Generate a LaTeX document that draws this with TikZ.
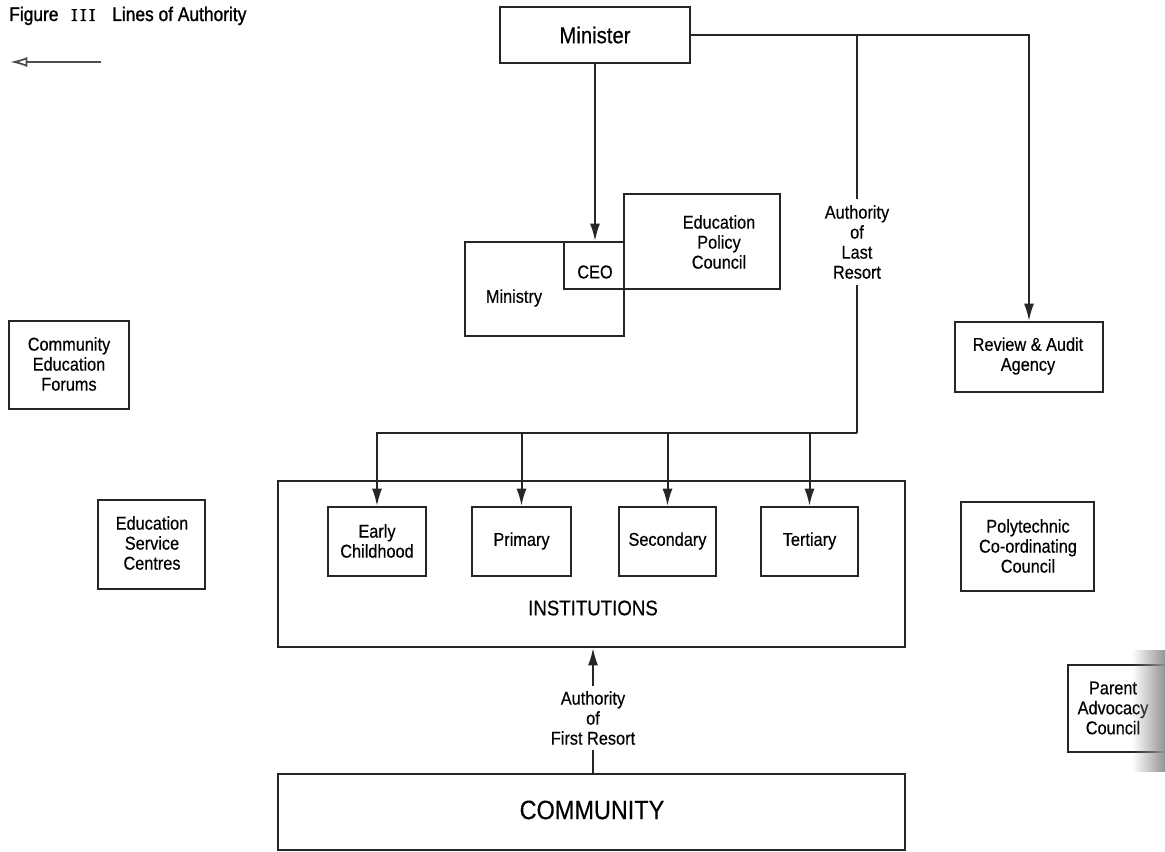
\documentclass[tikz,border=0pt]{standalone}
\usepackage{fontspec}
\setmainfont{Liberation Sans}[FakeStretch=0.88, FakeBold=0.35]
\newfontfamily\heavysans{Liberation Sans}[FakeStretch=0.88, FakeBold=1.2]
\newfontfamily\lmr{lmroman10-regular.otf}[FakeBold=1.2]
\usetikzlibrary{arrows.meta,fit,fadings}

% soft darkening toward the right margin
\tikzfading[name=scanfade, left color=transparent!100, right color=transparent!0]

\begin{document}
\begin{tikzpicture}[x=0.75pt,y=-0.75pt,
  boxfit/.style={draw=black!85, line width=1.5pt, inner sep=0pt},
  txt/.style={font=\fontsize{13.9}{15}\selectfont, align=center, inner sep=0pt},
  link/.style={draw=black!85, line width=1.5pt},
  arr/.style={link, -{Latex[length=13pt,width=7.5pt]}},
]
\path[use as bounding box] (0,0) rectangle (1165,852);
\clip (0,0) rectangle (1165,852);
\fill[white] (0,0) rectangle (1165,852);

% title
\node[anchor=base west, inner sep=0pt, font=\heavysans\fontsize{14.8}{16}\selectfont] (figword) at (9,21) {Figure};
\node[anchor=base west, inner sep=0pt, font=\lmr\fontsize{13}{15}\selectfont] (roman) at (71,21) {I\kern2pt I\kern2pt I};
\node[anchor=base west, inner sep=0pt, font=\heavysans\fontsize{14.8}{16}\selectfont] (figtitle) at (112,21) {Lines of Authority};
\coordinate (sa1) at (101,62);
\coordinate (sa2) at (10,62);
\draw[black!70, line width=1.3pt, -{Latex[open,length=13pt,width=7.5pt]}] (sa1) -- (sa2);

% top level
\node[boxfit, fit={(500,7) (690,63)}] (minister) {};
\node[txt, font=\fontsize{17.3}{19}\selectfont] (ministerT) at (minister.center) {Minister};

% ministry cluster
\node[boxfit, fit={(465,242) (624,336)}] (ministry) {};
\node[txt] (ministryT) at (514,298) {Ministry};
\node[boxfit, fit={(564,242) (624,289)}] (ceo) {};
\node[txt] (ceoT) at (595,272) {CEO};
\node[boxfit, fit={(624,194) (780,289)}] (epc) {};
\node[txt] (epcT) at (719,242) {Education\\Policy\\Council};

% side bodies
\node[boxfit, fit={(955,322) (1103,392)}] (review) {};
\node[txt] (reviewT) at (1028,356) {Review \& Audit\\Agency};
\node[boxfit, fit={(9,321) (129,409)}] (cef) {};
\node[txt] (cefT) at (69,364) {Community\\Education\\Forums};
\node[boxfit, fit={(98,500) (205,589)}] (esc) {};
\node[txt] (escT) at (152,543) {Education\\Service\\Centres};
\node[boxfit, fit={(961,502) (1094,591)}] (poly) {};
\node[txt] (polyT) at (1028,546) {Polytechnic\\Co-ordinating\\Council};
\node[boxfit, fit={(1068,665) (1180,752)}] (pac) {};
\node[txt] (pacT) at (1113,708) {Parent\\Advocacy\\Council};

% institutions
\node[boxfit, fit={(278,481) (905,647)}] (inst) {};
\node[txt, font=\fontsize{15.9}{17}\selectfont] (instT) at (593,608) {INSTITUTIONS};
\node[boxfit, fit={(328,507) (426,576)}] (early) {};
\node[txt] (earlyT) at (377,541) {Early\\Childhood};
\node[boxfit, fit={(472,507) (571,576)}] (primary) {};
\node[txt] (primaryT) at (521.5,541) {Primary};
\node[boxfit, fit={(619,507) (716,576)}] (secondary) {};
\node[txt] (secondaryT) at (667.5,541) {Secondary};
\node[boxfit, fit={(761,507) (858,576)}] (tertiary) {};
\node[txt] (tertiaryT) at (809.5,541) {Tertiary};

% community
\node[boxfit, fit={(278,774) (905,850)}] (community) {};
\node[txt, font=\fontsize{20}{22}\selectfont] (communityT) at (592,810) {COMMUNITY};

% connector labels
\node[txt, inner sep=4.5pt] (lastres) at (857,242) {Authority\\of\\Last\\Resort};
\node[txt, inner sep=3.5pt] (firstres) at (593,718) {Authority\\of\\First Resort};

% lines of authority
\draw[arr] (minister.south) -- (minister.south |- ceo.north);
\draw[arr] (minister.east) -| (review.north);
\coordinate (lrTop) at (lastres.north |- minister.east);
\coordinate (bus) at (857,433);
\draw[link] (lrTop) -- (lastres.north);
\draw[link] (lastres.south) -- (bus);
\draw[arr] (bus) -- (early.north |- bus) -- (early.north);
\draw[arr] (primary.north |- bus) -- (primary.north);
\draw[arr] (secondary.north |- bus) -- (secondary.north);
\draw[arr] (tertiary.north |- bus) -- (tertiary.north);
\draw[arr] (firstres.north) -- (firstres.north |- inst.south);
\draw[link] (firstres.south) -- (firstres.south |- community.north);

% darkened right margin
\fill[black!42, path fading=scanfade] (1132,650) rectangle (1165,772);
\end{tikzpicture}
\end{document}
